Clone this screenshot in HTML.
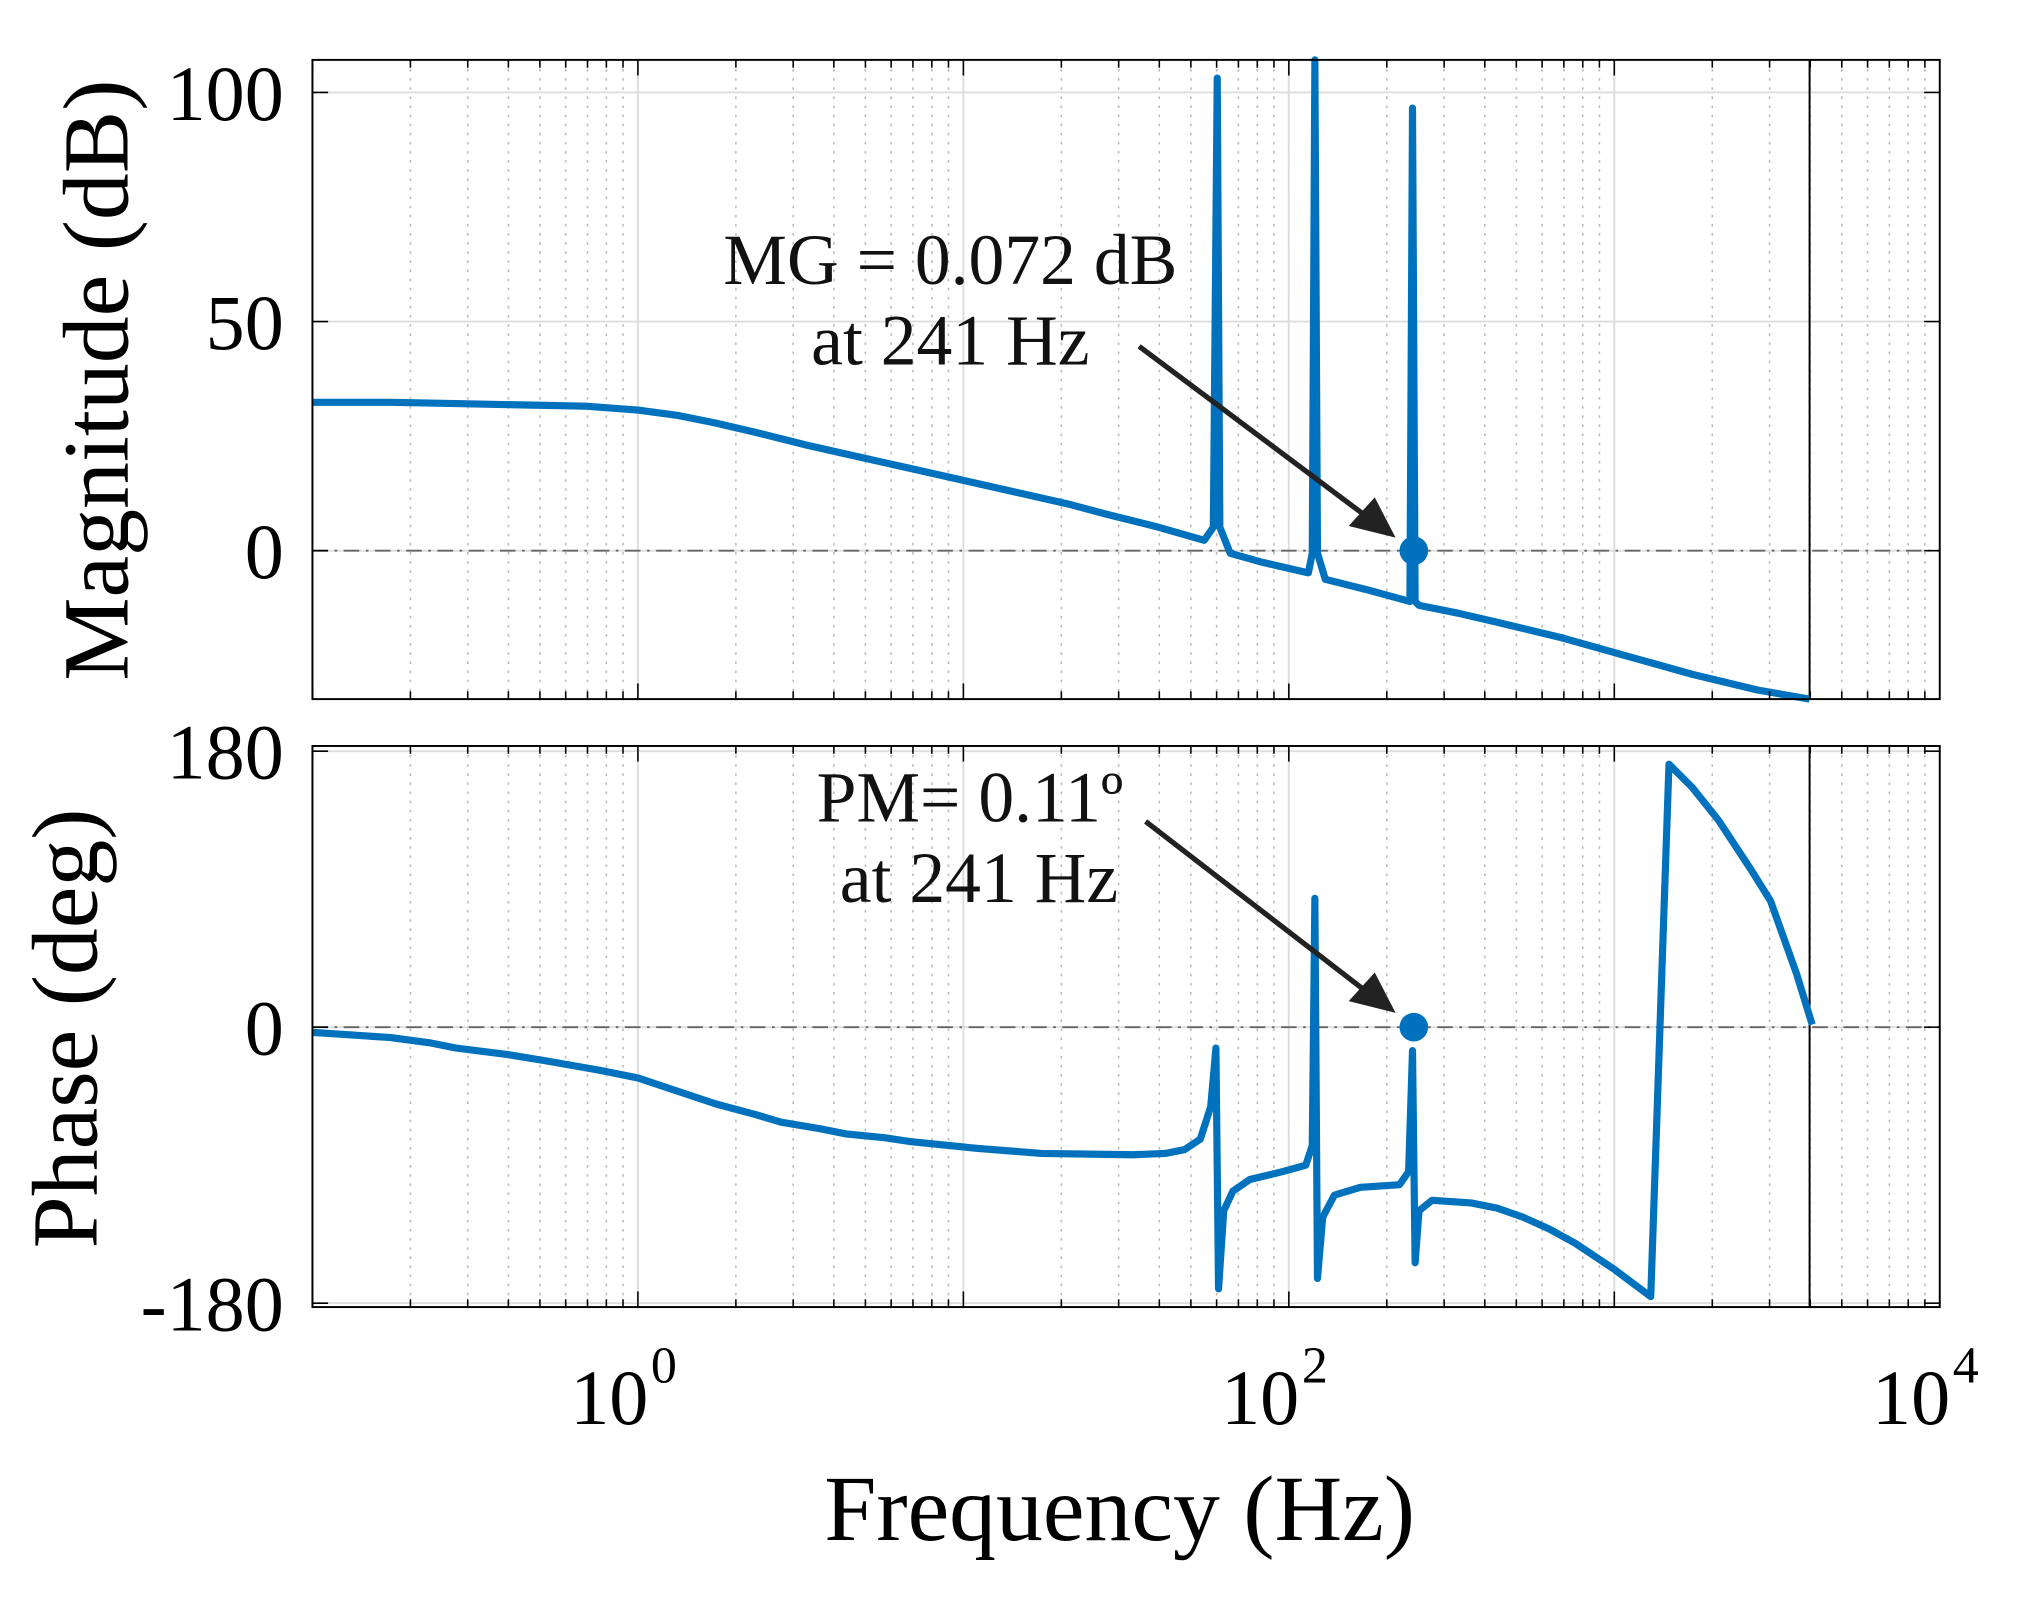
<!DOCTYPE html>
<html><head><meta charset="utf-8"><style>body{margin:0;background:#fff}svg{display:block}</style></head>
<body>
<svg id="s" width="2040" height="1600" viewBox="0 0 1567 1229" preserveAspectRatio="none" xmlns="http://www.w3.org/2000/svg" font-family="Liberation Serif, serif">
<g id="grid"></g>
<g stroke="#666" stroke-width="1.5" stroke-dasharray="12,5,2,5">
<line x1="240" y1="423" x2="1490" y2="423"/>
<line x1="240" y1="789" x2="1490" y2="789"/>
</g>
<line x1="1390" y1="46" x2="1390" y2="537" stroke="#000" stroke-width="1.5"/>
<line x1="1390" y1="573" x2="1390" y2="1004" stroke="#000" stroke-width="1.5"/>
<g fill="none" stroke="#0072bd" stroke-width="5.5" stroke-linejoin="round">
<path d="M240,309 L300,309 L350,310 L400,311 L450,312 L490,315 L520,319 L550,325 L580,332 L620,342 L660,351 L700,360 L740,369 L780,378 L820,387 L850,395 L890,405 L925,415 L932,405 L935,60 L937,405 L945,425 L970,432 L1005,440 L1008,425 L1010,46 L1012,425 L1018,445 L1050,453 L1083,462 L1085,83 L1087,462 L1090,465 L1120,471 L1150,478 L1200,490 L1250,504 L1300,518 L1350,530 L1390,537"/>
<path d="M240,793 L270,795 L300,797 L330,801 L350,805 L390,810 L420,815 L460,822 L490,828 L520,838 L550,848 L580,856 L600,862 L630,867 L650,871 L680,874 L700,877 L750,882 L800,886 L870,887 L895,886 L910,883 L922,875 L930,850 L934,805 L936,990 L940,930 L947,915 L960,906 L985,900 L1003,895 L1008,880 L1010,690 L1012,982 L1016,935 L1025,918 L1045,912 L1075,910 L1082,900 L1085,807 L1087,970 L1090,930 L1100,922 L1130,924 L1150,928 L1170,935 L1190,944 L1210,955 L1240,975 L1268,996 L1282,587 L1300,605 L1320,630 L1345,668 L1360,692 L1370,720 L1380,748 L1392,787"/>
</g>
<g fill="#0072bd"><circle cx="1086" cy="423" r="11"/><circle cx="1086" cy="789" r="11"/></g>
<g stroke="#222" stroke-width="4"><line x1="875" y1="266" x2="1050" y2="397"/><line x1="880" y1="631" x2="1050" y2="762"/></g>
<g fill="#222"><polygon points="1072,413 1036,404 1056,382"/><polygon points="1072,778 1036,769 1056,747"/></g>
<g fill="none" stroke="#000" stroke-width="1.5"><rect x="240" y="46" width="1250" height="491"/><rect x="240" y="573" width="1250" height="431"/></g>
<g id="ticks" stroke="#000" stroke-width="1.2"></g>
<g font-size="55" fill="#111">
<text x="730" y="218" text-anchor="middle">MG = 0.072 dB</text>
<text x="730" y="280" text-anchor="middle">at 241 Hz</text>
<text x="745" y="631" text-anchor="middle">PM= 0.11º</text>
<text x="752" y="693" text-anchor="middle">at 241 Hz</text>
</g>
<g font-size="60" fill="#000" text-anchor="end">
<text x="218" y="92">100</text><text x="218" y="268">50</text><text x="218" y="444">0</text>
<text x="218" y="598">180</text><text x="218" y="810">0</text><text x="218" y="1022">-180</text>
</g>
<g font-size="60" fill="#000">
<text x="438" y="1094">10</text><text x="500" y="1062" font-size="40">0</text>
<text x="938" y="1094">10</text><text x="1000" y="1062" font-size="40">2</text>
<text x="1438" y="1094">10</text><text x="1500" y="1062" font-size="40">4</text>
<text x="860" y="1183" text-anchor="middle" font-size="72">Frequency  (Hz)</text>
<text transform="translate(98,292) rotate(-90)" text-anchor="middle" font-size="72">Magnitude (dB)</text>
<text transform="translate(74,790) rotate(-90)" text-anchor="middle" font-size="72">Phase (deg)</text>
</g>
<script>
var ns="http://www.w3.org/2000/svg",g=document.getElementById("grid"),t=document.getElementById("ticks");
function L(p,a,b,c,d,st){var l=document.createElementNS(ns,"line");l.setAttribute("x1",a);l.setAttribute("y1",b);l.setAttribute("x2",c);l.setAttribute("y2",d);for(var k in st)l.setAttribute(k,st[k]);p.appendChild(l);}
var panels=[[46,537],[573,1004]];
for(var dec=-1;dec<4;dec++){for(var m=1;m<10;m++){var x=240+250*(dec+1+Math.log10(m));panels.forEach(function(p){
if(m==1){L(g,x,p[0],x,p[1],{stroke:"#ddd","stroke-width":1.5});L(t,x,p[0],x,p[0]+12,{});L(t,x,p[1],x,p[1]-12,{});}
else{L(g,x,p[0],x,p[1],{stroke:"#bbb","stroke-width":1.2,"stroke-dasharray":"2,5"});L(t,x,p[0],x,p[0]+6,{});L(t,x,p[1],x,p[1]-6,{});}});}}
[71,247,423].forEach(function(y){L(g,240,y,1490,y,{stroke:"#ddd","stroke-width":1.5});L(t,240,y,252,y,{});L(t,1490,y,1478,y,{});});
[577,789,1001].forEach(function(y){L(g,240,y,1490,y,{stroke:"#ddd","stroke-width":1.5});L(t,240,y,252,y,{});L(t,1490,y,1478,y,{});});
</script>
</svg>
</body></html>
